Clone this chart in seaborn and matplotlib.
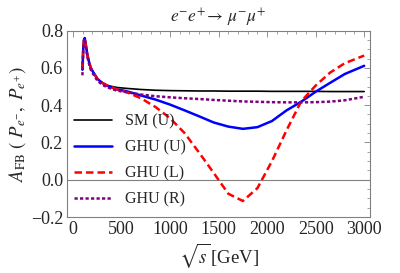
import matplotlib
matplotlib.use("Agg")
import matplotlib.pyplot as plt
from matplotlib.ticker import MultipleLocator, FuncFormatter
import seaborn as sns
import pandas as pd

# sqrt(s) values in GeV
sqrt_s = [97, 105, 113, 121, 130, 149, 166, 183, 210, 253, 300, 356, 450, 550,
          700, 850, 1000, 1150, 1300, 1450, 1600, 1750, 1900, 2050, 2200, 2350,
          2500, 2650, 2800, 3000]

sm_u = [0.59, 0.70, 0.75, 0.76, 0.73, 0.666, 0.63, 0.60, 0.575, 0.54, 0.52, 0.505,
        0.495, 0.49, 0.484, 0.48, 0.478, 0.477, 0.476, 0.476, 0.475, 0.475, 0.475,
        0.474, 0.474, 0.474, 0.474, 0.473, 0.473, 0.473]
ghu_u = [0.59, 0.70, 0.75, 0.76, 0.73, 0.666, 0.63, 0.60, 0.575, 0.54, 0.52, 0.503,
         0.485, 0.475, 0.452, 0.43, 0.403, 0.372, 0.34, 0.307, 0.285, 0.273, 0.282,
         0.315, 0.372, 0.418, 0.472, 0.52, 0.567, 0.611]
ghu_l = [0.59, 0.70, 0.75, 0.76, 0.73, 0.666, 0.63, 0.60, 0.575, 0.54, 0.52, 0.505,
         0.485, 0.47, 0.437, 0.39, 0.33, 0.25, 0.145, 0.036, -0.075, -0.114, -0.045,
         0.1, 0.265, 0.42, 0.505, 0.575, 0.625, 0.666]
ghu_r = [0.56, 0.69, 0.745, 0.755, 0.72, 0.655, 0.62, 0.59, 0.565, 0.53, 0.51, 0.495,
         0.478, 0.47, 0.457, 0.448, 0.442, 0.437, 0.433, 0.428, 0.424, 0.42, 0.418,
         0.416, 0.415, 0.415, 0.416, 0.419, 0.426, 0.445]

labels = ["SM (U)", "GHU (U)", "GHU (L)", "GHU (R)"]
colors = ["black", "blue", "red", (0.5, 0.0, 0.5)]

frames = []
for lab, vals in zip(labels, [sm_u, ghu_u, ghu_l, ghu_r]):
    frames.append(pd.DataFrame({"x": sqrt_s, "y": vals, "model": lab}))
df = pd.concat(frames, ignore_index=True)

sns.set_style("white")
plt.rcParams["font.family"] = ["Liberation Serif", "DejaVu Serif"]
plt.rcParams["mathtext.fontset"] = "stix"

fig, ax = plt.subplots(figsize=(4, 2.73), dpi=100)
fig.subplots_adjust(left=0.168, right=0.925, top=0.888, bottom=0.205)

ax.axhline(0, color="grey", lw=0.8, zorder=1)

sns.lineplot(data=df, x="x", y="y", hue="model", style="model",
             palette=dict(zip(labels, colors)),
             dashes={"SM (U)": "", "GHU (U)": "", "GHU (L)": (3, 1.6), "GHU (R)": (1.3, 0.9)},
             sort=False, ax=ax, legend=True)

widths = [1.2, 1.8, 1.8, 1.8]
for line, w in zip(ax.get_lines()[1:], widths):
    line.set_linewidth(w)

ax.set_xlim(-60, 3060)
ax.set_ylim(-0.2, 0.8)
ax.xaxis.set_major_locator(MultipleLocator(500))
ax.xaxis.set_minor_locator(MultipleLocator(100))
ax.yaxis.set_major_locator(MultipleLocator(0.2))
ax.yaxis.set_minor_locator(MultipleLocator(0.05))
ax.yaxis.set_major_formatter(FuncFormatter(lambda v, p: f"{v:.1f}".replace("-", "\u2212")))
ax.tick_params(which="both", direction="in", top=True, right=True, color="grey",
               labelsize=13, pad=3)
ax.tick_params(which="major", length=4, width=0.6)
ax.tick_params(which="minor", length=2, width=0.5)
for sp in ax.spines.values():
    sp.set_color("grey")
    sp.set_linewidth(0.8)

ax.set_title(r"$e^{-}e^{+}\!\rightarrow\,\mu^{-}\mu^{+}$", fontsize=12.5, pad=6)
ax.set_xlabel(r"$\sqrt{s}\,$[GeV]", fontsize=13.5, labelpad=2)
ax.set_ylabel(r"$A_{\rm FB}\ (\ P_{e^{-}},\ P_{e^{+}})$", fontsize=13.5, labelpad=2)

handles, labs = ax.get_legend_handles_labels()
for h, w in zip(handles, widths):
    h.set_linewidth(w)
ax.legend(handles, labs, loc="lower left", bbox_to_anchor=(-0.025, -0.025),
          frameon=False, fontsize=11.5, handlelength=2.4, handletextpad=0.8,
          labelspacing=0.62)

fig.savefig("out.png", dpi=100)
